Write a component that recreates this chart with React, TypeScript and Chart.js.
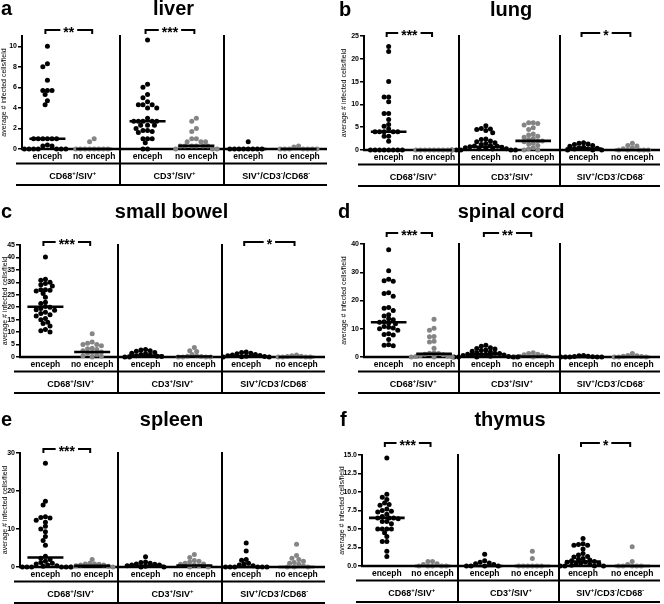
import React, { useEffect, useRef } from "react";
import { Chart, registerables } from "chart.js";

Chart.register(...registerables);

const FONT = "'Liberation Sans', Arial, Helvetica, sans-serif";

// ---------- shared labels ----------
const COLUMN_LABELS = ["enceph", "no enceph", "enceph", "no enceph", "enceph", "no enceph"];
const GROUP_LABELS = ["CD68^+/SIV^+", "CD3^+/SIV^+", "SIV^+/CD3^-/CD68^-"];
const Y_TITLE = "average # infected cells/field";
const COLUMN_X = [0.5, 1.42, 2.47, 3.43, 4.45, 5.44];
const GROUP_X = [1.0, 3.0, 5.0];
const SEPARATOR_X = [1.93, 3.97];

// ---------- liver ----------
const liverValues = [
  [10.0, 8.3, 8.0, 6.7, 5.7, 5.7, 5.7, 5.3, 4.7, 4.3, 1, 1, 1, 1, 1, 1, 0.4, 0.3, 0.3, 0, 0, 0, 0, 0, 0, 0],
  [1.0, 0.7, 0, 0, 0, 0, 0, 0, 0, 0],
  [10.6, 6.3, 6.0, 5.3, 5.0, 4.6, 4.3, 4.3, 4.3, 4.0, 4.0, 3.0, 2.7, 2.7, 2.7, 2.7, 2.7, 2.3, 2.3, 2.3, 2.0, 1.8, 1.8, 1.7, 1.6, 1.0, 1.0, 1.0, 0.6, 0, 0],
  [3.0, 2.7, 2.0, 1.7, 1.0, 1.0, 0.7, 0.7, 0.7, 0.3, 0.3, 0.3, 0.3, 0.3, 0.3, 0, 0, 0],
  [0.7, 0, 0, 0, 0, 0, 0, 0, 0],
  [0.3, 0.2, 0, 0, 0, 0, 0, 0, 0],
];
const liverMedians = [1, 0, 2.7, 0.3, 0, 0];
const liverTicks = [0, 1, 2, 3, 4, 5, 6, 7, 8, 9, 10, 11];
const liverStars = [
  { text: "**", from: 0, to: 1 },
  { text: "***", from: 2, to: 3 },
];

// ---------- lung ----------
const lungValues = [
  [22.7, 21.6, 15.0, 11.6, 11.6, 10.6, 8.0, 8.0, 6.7, 5.6, 5.2, 4.6, 4.0, 4.0, 4.0, 4.0, 4.0, 3.0, 3.0, 1.9, 0, 0, 0, 0, 0, 0, 0, 0],
  [0, 0, 0, 0, 0, 0, 0, 0, 0],
  [5.3, 4.7, 4.6, 4.5, 4.3, 3.8, 2.4, 2.3, 2.0, 1.8, 1.6, 1.4, 1.2, 1.0, 0.9, 0.8, 0.7, 0.6, 0.5, 0.4, 0.3, 0.3, 0.2, 0, 0, 0, 0, 0],
  [6.0, 6.0, 5.8, 5.5, 4.9, 4.5, 3.5, 3.3, 3.0, 2.8, 2.5, 2.3, 2.0, 2.0, 1.8, 1.5, 1.3, 1.0, 0.5, 0.3, 0, 0],
  [1.6, 1.5, 1.3, 1.2, 1.0, 0.8, 0.6, 0.5, 0.4, 0.3, 0.2, 0, 0, 0],
  [1.5, 1.0, 0.9, 0.5, 0.3, 0, 0, 0, 0, 0],
];
const lungMedians = [4.0, 0, 0.7, 2.0, 0.3, 0];
const lungTicks = [0, 5, 10, 15, 20, 25];
const lungStars = [
  { text: "***", from: 0, to: 1 },
  { text: "*", from: 4, to: 5 },
];

// ---------- small bowel ----------
const bowelValues = [
  [40.2, 31.2, 30.8, 30.0, 29.5, 29.0, 28.5, 27.0, 27.0, 26.8, 26.5, 25.5, 24.0, 22.0, 21.5, 20.3, 20.0, 19.5, 19.0, 18.8, 18.0, 17.5, 17.0, 16.5, 15.5, 15.0, 14.0, 13.5, 12.5, 11.0, 10.5, 10.0],
  [9.3, 6.0, 5.5, 5.0, 5.0, 4.5, 3.5, 3.3, 3.0, 2.5, 2.0, 1.8, 1.5, 1.0, 0.5, 0.3, 0],
  [3.0, 2.8, 2.5, 2.3, 1.8, 1.5, 1.3, 1.0, 0.8, 0.5, 0.3, 0.2, 0, 0],
  [3.8, 2.5, 2.2, 1.0, 0.5, 0.3, 0.2, 0, 0, 0, 0],
  [2.0, 1.8, 1.5, 1.3, 1.0, 0.8, 0.6, 0.5, 0.3, 0.2, 0.1, 0, 0],
  [0.8, 0.5, 0.3, 0.2, 0, 0, 0, 0],
];
const bowelMedians = [20.2, 2.0, 0.5, 0.2, 0.3, 0];
const bowelTicks = [0, 5, 10, 15, 20, 25, 30, 35, 40, 45];
const bowelStars = [
  { text: "***", from: 0, to: 1 },
  { text: "*", from: 4, to: 5 },
];

// ---------- spinal cord ----------
const spinalValues = [
  [38, 30.5, 27.5, 27.0, 26.8, 22.7, 22.5, 21.5, 17.5, 17.3, 16.5, 15.0, 14.5, 13.5, 13.2, 12.5, 12.3, 12.0, 11.8, 10.8, 10.5, 10.3, 10.0, 9.5, 8.2, 8.0, 7.8, 6.2, 4.3, 4.2, 4.0],
  [13.4, 10.2, 9.5, 7.3, 7.2, 5.6, 5.3, 3.1, 1.5, 1.3, 1.2, 1.0, 0.8, 0.5, 0.3, 0.2, 0, 0, 0],
  [4.2, 3.8, 3.3, 3.0, 2.8, 2.5, 2.3, 2.0, 1.8, 1.5, 1.3, 1.2, 1.0, 1.0, 0.8, 0.7, 0.5, 0.5, 0.3, 0.2, 0, 0, 0, 0, 0],
  [1.5, 1.2, 1.0, 0.8, 0.5, 0.3, 0.2, 0, 0],
  [0.5, 0.4, 0.3, 0.2, 0.1, 0, 0, 0, 0, 0],
  [1.2, 0.5, 0.4, 0.3, 0.2, 0, 0, 0],
];
const spinalMedians = [12.3, 1.1, 1.0, 0.2, 0, 0];
const spinalTicks = [0, 10, 20, 30, 40];
const spinalStars = [
  { text: "***", from: 0, to: 1 },
  { text: "**", from: 2, to: 3 },
];

// ---------- spleen ----------
const spleenValues = [
  [27.3, 17.3, 16.3, 13.2, 13.0, 12.9, 12.3, 11.8, 10.7, 10.0, 9.3, 8.0, 7.0, 5.7, 2.8, 2.3, 2.0, 1.5, 1.2, 1.0, 0.8, 0.5, 0.3, 0.2, 0, 0, 0, 0, 0, 0],
  [2.0, 1.0, 0.8, 0.8, 0.7, 0.5, 0.5, 0.3, 0.2, 0, 0],
  [2.7, 1.3, 1.2, 1.0, 0.8, 0.7, 0.5, 0.5, 0.3, 0.2, 0, 0],
  [3.3, 2.5, 1.7, 1.5, 1.3, 1.0, 0.8, 0.7, 0.5, 0.3, 0, 0],
  [6.3, 4.2, 2.0, 1.8, 1.0, 0.8, 0.5, 0.3, 0, 0, 0, 0, 0, 0],
  [6.0, 3.0, 2.3, 2.0, 1.5, 1.2, 1.0, 0.7, 0.3, 0, 0, 0],
];
const spleenMedians = [2.5, 0.3, 0.3, 0.4, 0, 0];
const spleenTicks = [0, 10, 20, 30];
const spleenStars = [{ text: "***", from: 0, to: 1 }];

// ---------- thymus ----------
const thymusValues = [
  [14.6, 9.7, 9.3, 9.0, 8.5, 8.3, 8.2, 7.7, 7.5, 7.4, 7.3, 7.0, 6.7, 6.5, 6.5, 6.5, 6.4, 6.0, 6.0, 5.7, 5.0, 5.0, 5.0, 5.0, 4.5, 4.0, 3.3, 3.3, 2.0, 1.3],
  [0.6, 0.6, 0.3, 0.2, 0, 0, 0, 0, 0],
  [1.6, 0.7, 0.5, 0.4, 0.3, 0.2, 0, 0, 0, 0],
  [2.0, 1.0, 0, 0, 0, 0, 0, 0],
  [3.7, 3.0, 2.9, 2.8, 2.8, 2.3, 1.7, 1.5, 1.3, 1.2, 1.0, 0.9, 0.8, 0.7, 0.6, 0.5, 0.5, 0.4, 0.3, 0.3, 0.2, 0.1, 0, 0, 0, 0],
  [2.6, 0.6, 0.2, 0, 0, 0, 0, 0],
];
const thymusMedians = [6.5, 0, 0, 0, 0.6, 0];
const thymusTicks = [0, 2.5, 5, 7.5, 10, 12.5, 15];
const thymusStars = [
  { text: "***", from: 0, to: 1 },
  { text: "*", from: 4, to: 5 },
];

// ---------- layout (positions / sizes only) ----------
type Star = { text: string; from: number; to: number };
type PanelCfg = {
  key: string; letter: string; title: string;
  values: number[][]; medians: number[]; ticks: number[]; stars: Star[]; decimals: number;
  x: number; y: number; w: number; h: number;
  area: { l: number; r: number; t: number; b: number };
  titleBase: number; letterX: number; bracketY: number; yTitleX: number;
};

const PANELS: PanelCfg[] = [
  { key: "a", letter: "a", title: "liver", values: liverValues, medians: liverMedians, ticks: liverTicks, stars: liverStars, decimals: 0,
    x: 0, y: 0, w: 332, h: 200, area: { l: 22, r: 327, t: 36, b: 149 }, titleBase: 15, letterX: 1, bracketY: 30, yTitleX: 4.5 },
  { key: "b", letter: "b", title: "lung", values: lungValues, medians: lungMedians, ticks: lungTicks, stars: lungStars, decimals: 0,
    x: 332, y: 0, w: 332, h: 200, area: { l: 32, r: 331, t: 36, b: 150 }, titleBase: 16, letterX: 7, bracketY: 33, yTitleX: 12 },
  { key: "c", letter: "c", title: "small bowel", values: bowelValues, medians: bowelMedians, ticks: bowelTicks, stars: bowelStars, decimals: 0,
    x: 0, y: 200, w: 332, h: 200, area: { l: 20, r: 325, t: 45, b: 157 }, titleBase: 18, letterX: 1, bracketY: 42, yTitleX: 5 },
  { key: "d", letter: "d", title: "spinal cord", values: spinalValues, medians: spinalMedians, ticks: spinalTicks, stars: spinalStars, decimals: 0,
    x: 332, y: 200, w: 332, h: 200, area: { l: 32, r: 331, t: 44, b: 157 }, titleBase: 18, letterX: 6, bracketY: 33, yTitleX: 12 },
  { key: "e", letter: "e", title: "spleen", values: spleenValues, medians: spleenMedians, ticks: spleenTicks, stars: spleenStars, decimals: 0,
    x: 0, y: 400, w: 332, h: 204, area: { l: 20, r: 325, t: 53, b: 167 }, titleBase: 26, letterX: 1, bracketY: 49, yTitleX: 5 },
  { key: "f", letter: "f", title: "thymus", values: thymusValues, medians: thymusMedians, ticks: thymusTicks, stars: thymusStars, decimals: 1,
    x: 332, y: 400, w: 332, h: 204, area: { l: 30, r: 331, t: 55, b: 166 }, titleBase: 26, letterX: 8, bracketY: 43, yTitleX: 10 },
];

const BLACK = "#000000";
const GREY = "#858585";
const DOT_R = 2.5;
const DOT_GAP = 4.6; // px between neighbouring dot centres
const MEDIAN_HALF = 18; // px

// beeswarm: spread equal / close values horizontally (pixel space -> x units)
function swarm(vals: number[], cx: number, pxY: number, pxX: number) {
  const sorted = [...vals].sort((a, b) => b - a);
  const placed: { dx: number; py: number }[] = [];
  const out: { x: number; y: number }[] = [];
  for (const v of sorted) {
    const py = v * pxY;
    let chosen = 0;
    for (let k = 0; k < 60; k++) {
      const step = Math.ceil(k / 2) * (DOT_GAP / 2) * (k % 2 === 1 ? -1 : 1);
      const ok = placed.every((p) => Math.hypot(p.dx - step, p.py - py) >= DOT_GAP * 0.9);
      if (ok) { chosen = step; break; }
    }
    placed.push({ dx: chosen, py });
    out.push({ x: cx + chosen / pxX, y: v });
  }
  return out;
}

function drawRich(ctx: CanvasRenderingContext2D, text: string, cx: number, y: number, size: number) {
  const parts: { t: string; sup: boolean }[] = [];
  let buf = "";
  for (let i = 0; i < text.length; i++) {
    if (text[i] === "^") {
      if (buf) parts.push({ t: buf, sup: false });
      buf = "";
      parts.push({ t: text[i + 1], sup: true });
      i++;
    } else buf += text[i];
  }
  if (buf) parts.push({ t: buf, sup: false });
  const base = `bold ${size}px ${FONT}`;
  const sup = `bold ${Math.round(size * 0.68)}px ${FONT}`;
  let w = 0;
  for (const p of parts) { ctx.font = p.sup ? sup : base; w += ctx.measureText(p.t).width; }
  let x = cx - w / 2;
  ctx.textAlign = "left";
  ctx.textBaseline = "alphabetic";
  for (const p of parts) {
    ctx.font = p.sup ? sup : base;
    ctx.fillText(p.t, x, p.sup ? y - size * 0.38 : y);
    x += ctx.measureText(p.t).width;
  }
}

function overlay(p: PanelCfg) {
  return {
    id: "overlay_" + p.key,
    beforeDatasetsDraw(chart: any) {
      const { ctx, chartArea: a, scales } = chart;
      const y0 = scales.y.getPixelForValue(0);
      ctx.save();
      ctx.strokeStyle = BLACK;
      ctx.lineWidth = 2.5;
      ctx.beginPath();
      ctx.moveTo(a.left - 1, y0);
      ctx.lineTo(a.right, y0);
      ctx.stroke();
      ctx.restore();
    },
    afterDatasetsDraw(chart: any) {
      const { ctx, chartArea: a, scales } = chart;
      const xs = scales.x;
      const y0 = scales.y.getPixelForValue(0);
      ctx.save();
      ctx.strokeStyle = BLACK;
      ctx.fillStyle = BLACK;
      // separators
      ctx.lineWidth = 2;
      for (const s of SEPARATOR_X) {
        const px = Math.round(xs.getPixelForValue(s));
        ctx.beginPath();
        ctx.moveTo(px, a.top - 1);
        ctx.lineTo(px, y0 + 36);
        ctx.stroke();
      }
      // horizontal rules
      for (const dy of [14.5, 36]) {
        ctx.beginPath();
        ctx.moveTo(a.left - 6, y0 + dy);
        ctx.lineTo(a.right, y0 + dy);
        ctx.stroke();
      }
      // column labels
      ctx.font = `bold 8.5px ${FONT}`;
      ctx.textAlign = "center";
      ctx.textBaseline = "alphabetic";
      COLUMN_LABELS.forEach((lab, i) => {
        ctx.fillText(lab, xs.getPixelForValue(COLUMN_X[i]), y0 + 10);
      });
      // group labels
      GROUP_LABELS.forEach((lab, i) => {
        drawRich(ctx, lab, xs.getPixelForValue(GROUP_X[i]), y0 + 29.5, 9);
      });
      // significance brackets
      for (const s of p.stars) {
        const x1 = xs.getPixelForValue(COLUMN_X[s.from]) - 2;
        const x2 = xs.getPixelForValue(COLUMN_X[s.to]) - 2;
        const by = p.bracketY;
        ctx.font = `bold 14px ${FONT}`;
        const tw = ctx.measureText(s.text).width;
        const mid = (x1 + x2) / 2;
        ctx.lineWidth = 2;
        ctx.beginPath();
        ctx.moveTo(x1, by + 4);
        ctx.lineTo(x1, by);
        ctx.lineTo(mid - tw / 2 - 3, by);
        ctx.moveTo(mid + tw / 2 + 3, by);
        ctx.lineTo(x2, by);
        ctx.lineTo(x2, by + 4);
        ctx.stroke();
        ctx.textAlign = "center";
        ctx.textBaseline = "alphabetic";
        ctx.fillText(s.text, mid, by + 7);
      }
      ctx.restore();
    },
    afterDraw(chart: any) {
      const { ctx, chartArea: a } = chart;
      ctx.save();
      ctx.fillStyle = BLACK;
      ctx.font = `bold 20px ${FONT}`;
      ctx.textBaseline = "alphabetic";
      ctx.textAlign = "center";
      ctx.fillText(p.title, (a.left + a.right) / 2 - 1, p.titleBase);
      ctx.textAlign = "left";
      ctx.fillText(p.letter, p.letterX, p.titleBase);
      // y axis title
      ctx.translate(p.yTitleX, (a.top + a.bottom) / 2);
      ctx.rotate(-Math.PI / 2);
      ctx.font = `7px ${FONT}`;
      ctx.textAlign = "center";
      ctx.textBaseline = "middle";
      ctx.fillText(Y_TITLE, 0, 0);
      ctx.restore();
    },
  };
}

function Panel({ p }: { p: PanelCfg }) {
  const ref = useRef<HTMLCanvasElement | null>(null);
  useEffect(() => {
    if (!ref.current) return;
    const yMax = p.ticks[p.ticks.length - 1];
    const plotW = p.area.r - p.area.l;
    const plotH = p.area.b - p.area.t;
    const pxX = plotW / 6;
    const pxY = plotH / yMax;
    const medianSets = p.medians.map((m, i) => ({
      data: [
        { x: COLUMN_X[i] - MEDIAN_HALF / pxX, y: m },
        { x: COLUMN_X[i] + MEDIAN_HALF / pxX, y: m },
      ],
      showLine: true,
      borderColor: BLACK,
      borderWidth: 2.6,
      pointRadius: 0,
      clip: false,
    }));
    const pointSets = p.values.map((vals, i) => ({
      data: swarm(vals, COLUMN_X[i], pxY, pxX),
      backgroundColor: i % 2 === 0 ? BLACK : GREY,
      borderWidth: 0,
      pointRadius: DOT_R,
      clip: false,
    }));
    const chart = new Chart(ref.current, {
      type: "scatter",
      data: { datasets: [...medianSets, ...pointSets] as any },
      options: {
        animation: false,
        responsive: false,
        maintainAspectRatio: false,
        events: [],
        layout: { padding: { left: 0, right: p.w - p.area.r, top: p.area.t, bottom: p.h - p.area.b } },
        plugins: { legend: { display: false }, tooltip: { enabled: false }, title: { display: false } },
        scales: {
          x: { type: "linear", min: 0, max: 6, display: false },
          y: {
            type: "linear",
            min: 0,
            max: yMax,
            afterFit: (s: any) => { s.width = p.area.l; },
            afterBuildTicks: (s: any) => { s.ticks = p.ticks.map((v) => ({ value: v })); },
            ticks: {
              color: BLACK,
              padding: 1,
              font: { family: FONT, size: 7, weight: "bold" },
              callback: (v: any) => Number(v).toFixed(p.decimals),
            },
            grid: { drawOnChartArea: false, tickLength: 4, color: BLACK, lineWidth: 1.5 },
            border: { color: BLACK, width: 2 },
          },
        },
      } as any,
      plugins: [overlay(p)],
    });
    return () => chart.destroy();
  }, [p]);
  return (
    <canvas
      ref={ref}
      width={p.w}
      height={p.h}
      style={{ position: "absolute", left: p.x, top: p.y, width: p.w, height: p.h }}
    />
  );
}

export default function App() {
  return (
    <div style={{ position: "fixed", left: 0, top: 0, width: 664, height: 604, background: "#fff", overflow: "hidden" }}>
      {PANELS.map((p) => (
        <Panel key={p.key} p={p} />
      ))}
    </div>
  );
}
